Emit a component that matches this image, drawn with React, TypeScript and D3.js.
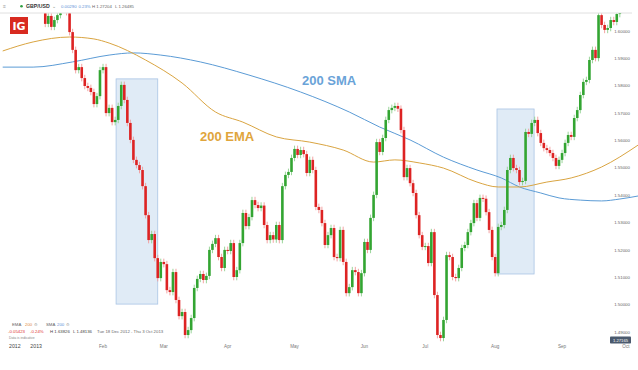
import React from "react";
import * as d3 from "d3";

const W = 638;
const H = 370;

// daily closes GBP/USD, 18 Dec 2012 onwards
const closes = [
  1.6186, 1.6194, 1.6179, 1.6205, 1.6150, 1.6132, 1.6143, 1.6157, 1.6216, 1.6223,
  1.6194, 1.6132, 1.6143, 1.6113, 1.6026, 1.6055, 1.6015, 1.6040, 1.6058, 1.6095,
  1.6084, 1.6069, 1.5996, 1.5931, 1.5857, 1.5868, 1.5828, 1.5799, 1.5792, 1.5777,
  1.5733, 1.5762, 1.5857, 1.5868, 1.5700, 1.5719, 1.5667, 1.5675, 1.5726, 1.5803,
  1.5748, 1.5664, 1.5602, 1.5529, 1.5510, 1.5492, 1.5433, 1.5327, 1.5236, 1.5258,
  1.5170, 1.5097, 1.5156, 1.5148, 1.5053, 1.5046, 1.5119, 1.5017, 1.4958, 1.4973,
  1.4889, 1.4907, 1.4951, 1.5061, 1.5094, 1.5112, 1.5090, 1.5105, 1.5200, 1.5222,
  1.5243, 1.5174, 1.5134, 1.5200, 1.5196, 1.5225, 1.5101, 1.5126, 1.5225, 1.5335,
  1.5287, 1.5320, 1.5382, 1.5364, 1.5353, 1.5362, 1.5291, 1.5236, 1.5254, 1.5238,
  1.5291, 1.5236, 1.5433, 1.5474, 1.5485, 1.5536, 1.5569, 1.5547, 1.5565, 1.5550,
  1.5481, 1.5529, 1.5492, 1.5357, 1.5346, 1.5298, 1.5218, 1.5254, 1.5280, 1.5174,
  1.5170, 1.5273, 1.5156, 1.5042, 1.5064, 1.5126, 1.5119, 1.5042, 1.5115, 1.5229,
  1.5200, 1.5317, 1.5401, 1.5594, 1.5558, 1.5609, 1.5675, 1.5711, 1.5719, 1.5726,
  1.5716, 1.5638, 1.5466, 1.5499, 1.5444, 1.5408, 1.5327, 1.5254, 1.5211, 1.5214,
  1.5152, 1.5265, 1.5035, 1.4889, 1.4878, 1.4944, 1.5181, 1.5174, 1.5101, 1.5097,
  1.5134, 1.5207, 1.5218, 1.5265, 1.5298, 1.5371, 1.5317, 1.5390, 1.5387, 1.5338,
  1.5273, 1.5174, 1.5115, 1.5284, 1.5291, 1.5346, 1.5492, 1.5536, 1.5499, 1.5492,
  1.5448, 1.5452, 1.5631, 1.5624, 1.5664, 1.5675, 1.5627, 1.5591, 1.5572, 1.5565,
  1.5554, 1.5536, 1.5507, 1.5529, 1.5554, 1.5591, 1.5620, 1.5613, 1.5682, 1.5711,
  1.5766, 1.5814, 1.5821, 1.5894, 1.5931, 1.5901, 1.6058, 1.6022, 1.6004, 1.6011,
  1.6040, 1.6033, 1.6062, 1.6069,
];
const firstOpen = 1.6175;
const WICK = 0.0012;

// [day index, value]
const smaPoints = [
  [0, 1.5868], [10, 1.5868], [23, 1.5887], [35, 1.5912], [43, 1.592], [52, 1.5912],
  [65, 1.5887], [81, 1.5839], [98, 1.5777], [114, 1.5704], [124, 1.5649], [134, 1.5602],
  [145, 1.5539], [156, 1.5492], [164, 1.5463], [170, 1.543], [177, 1.5408], [183, 1.539],
  [190, 1.5382], [197, 1.5379], [203, 1.5386], [209, 1.5397],
];
const emaPoints = [
  [0, 1.5927], [10, 1.596], [22, 1.5978], [30, 1.5971], [35, 1.5956], [47, 1.5894],
  [59, 1.581], [70, 1.5704], [79, 1.5667], [90, 1.5613], [101, 1.5594], [112, 1.5565],
  [122, 1.5521], [129, 1.5529], [137, 1.5518], [145, 1.5499], [156, 1.5448], [163, 1.543],
  [170, 1.543], [179, 1.5448], [187, 1.5463], [197, 1.5503], [209, 1.5583],
];

const zones = [
  { from: 37.3, to: 51, hi: 1.5825, lo: 1.5002 },
  { from: 162.6, to: 174.8, hi: 1.5715, lo: 1.5112 },
];

const yTicks = [1.49, 1.5, 1.51, 1.52, 1.53, 1.54, 1.55, 1.56, 1.57, 1.58, 1.59, 1.6];
const xTicks = [
  { label: "2012", date: "2012-12-24", year: true },
  { label: "2013", date: "2013-01-02", year: true },
  { label: "Feb", date: "2013-02-01" },
  { label: "Mar", date: "2013-03-01" },
  { label: "Apr", date: "2013-04-01" },
  { label: "May", date: "2013-05-01" },
  { label: "Jun", date: "2013-06-03" },
  { label: "Jul", date: "2013-07-01" },
  { label: "Aug", date: "2013-08-01" },
  { label: "Sep", date: "2013-09-02" },
  { label: "Oct", date: "2013-10-01" },
];

// trading days (weekdays) from the start of the range
const tradingDays: Date[] = [];
{
  let d = new Date(2012, 11, 18);
  while (tradingDays.length < 215) {
    if (d.getDay() !== 0 && d.getDay() !== 6) tradingDays.push(d);
    d = d3.timeDay.offset(d, 1);
  }
}
const fmt = d3.timeFormat("%Y-%m-%d");
const dayIndex = (s: string) => tradingDays.findIndex((d) => fmt(d) >= s);

const FONT = "'Liberation Sans', Arial, sans-serif";

export default function App() {
  const x = d3.scaleLinear().domain([0, 205]).range([2.7, 625.9]);
  const y = d3.scaleLinear().domain([1.49, 1.6]).range([332, 31]);

  const line = d3
    .line<number[]>()
    .x((d) => x(d[0]))
    .y((d) => y(d[1]))
    .curve(d3.curveMonotoneX);

  return (
    <svg
      width={W}
      height={H}
      style={{ position: "absolute", left: 0, top: 0, background: "#fff" }}
      fontFamily={FONT}
    >
      <defs>
        <clipPath id="plot">
          <rect x={0} y={13.5} width={W} height={330} />
        </clipPath>
      </defs>

      {/* header */}
      <line x1={0} x2={632} y1={13} y2={13} stroke="#d8d8d8" strokeWidth={0.8} />
      <text x={3} y={8} fontSize={5} fill="#999">≡</text>
      <circle cx={21.5} cy={6.3} r={1.3} fill="#2e9e3e" />
      <text x={26} y={8} fontSize={5.2} fontWeight="bold" fill="#333">GBP/USD</text>
      <text x={52} y={8} fontSize={4.5} fill="#888">⌄</text>
      <text x={61} y={8} fontSize={4.3} fill="#5a8fd6">0.00290</text>
      <text x={78.5} y={8} fontSize={4.3} fill="#5a8fd6">0.23%</text>
      <text x={92} y={8} fontSize={4.3} fill="#666">H 1.27204</text>
      <text x={115} y={8} fontSize={4.3} fill="#666">L 1.26485</text>

      {/* IG logo */}
      <rect x={10} y={17} width={18} height={17} fill="#d82a20" />
      <text x={19} y={30} fontSize={11} fontWeight="bold" fill="#fff" textAnchor="middle" fontFamily="'DejaVu Sans', sans-serif">
        IG
      </text>

      <g clipPath="url(#plot)">
        {zones.map((z, i) => (
          <rect
            key={i}
            x={x(z.from)}
            y={y(z.hi)}
            width={x(z.to) - x(z.from)}
            height={y(z.lo) - y(z.hi)}
            fill="#d6e4f3"
            fillOpacity={0.75}
            stroke="#a9c4e4"
            strokeWidth={0.8}
          />
        ))}

        <path d={line(smaPoints as number[][]) || ""} fill="none" stroke="#5b9bd5" strokeWidth={1} />
        <path d={line(emaPoints as number[][]) || ""} fill="none" stroke="#d9a441" strokeWidth={1} />

        {closes.map((c, i) => {
          const o = i === 0 ? firstOpen : closes[i - 1];
          const up = c >= o;
          const cx = x(i);
          const top = y(Math.max(o, c));
          const bot = y(Math.min(o, c));
          return (
            <g key={i}>
              <line
                x1={cx}
                x2={cx}
                y1={y(Math.max(o, c) + WICK)}
                y2={y(Math.min(o, c) - WICK)}
                stroke={up ? "#8fd08f" : "#f29a9a"}
                strokeWidth={0.9}
              />
              <rect
                x={cx - 1.3}
                y={top}
                width={2.6}
                height={Math.max(1, bot - top)}
                fill={up ? "#33a532" : "#dd2323"}
              />
            </g>
          );
        })}
      </g>

      {/* line labels */}
      <text x={302} y={85} fontSize={13} fontWeight="bold" fill="#6aa3d8">200 SMA</text>
      <text x={200} y={141} fontSize={13} fontWeight="bold" fill="#e0a53c">200 EMA</text>

      {/* price axis */}
      {yTicks.map((t) => (
        <text key={t} x={630} y={y(t) + 1.6} fontSize={4.4} fill="#666" textAnchor="end">
          {t.toFixed(5)}
        </text>
      ))}
      <rect x={610} y={336.5} width={21} height={7} fill="#4b5a6e" rx={0.8} />
      <text x={620.5} y={341.5} fontSize={4.2} fill="#fff" textAnchor="middle">1.27165</text>

      {/* time axis */}
      {xTicks.map((t) => (
        <text
          key={t.label}
          x={x(dayIndex(t.date))}
          y={348}
          fontSize={t.year ? 5.2 : 4.6}
          fill={t.year ? "#444" : "#777"}
          textAnchor="middle"
        >
          {t.label}
        </text>
      ))}

      {/* legend */}
      <g fontSize={4.3}>
        <text x={12} y={325.5} fill="#666">EMA</text>
        <text x={25} y={325.5} fill="#e0873c">200</text>
        <text x={34} y={325.5} fill="#aaa">⚙</text>
        <text x={46} y={325.5} fill="#666">SMA</text>
        <text x={57} y={325.5} fill="#5a8fd6">200</text>
        <text x={66} y={325.5} fill="#aaa">⚙</text>

        <text x={8} y={332.5} fill="#e03030">-0.05423</text>
        <text x={30} y={332.5} fill="#e03030">-0.24%</text>
        <text x={50} y={332.5} fill="#444">H 1.63826</text>
        <text x={73} y={332.5} fill="#444">L 1.48136</text>
        <text x={97} y={332.5} fill="#666">Tue 18 Dec 2012 - Thu 3 Oct 2013</text>
        <text x={9} y={338.5} fontSize={3.4} fill="#888">Data is indicative</text>
      </g>
    </svg>
  );
}
